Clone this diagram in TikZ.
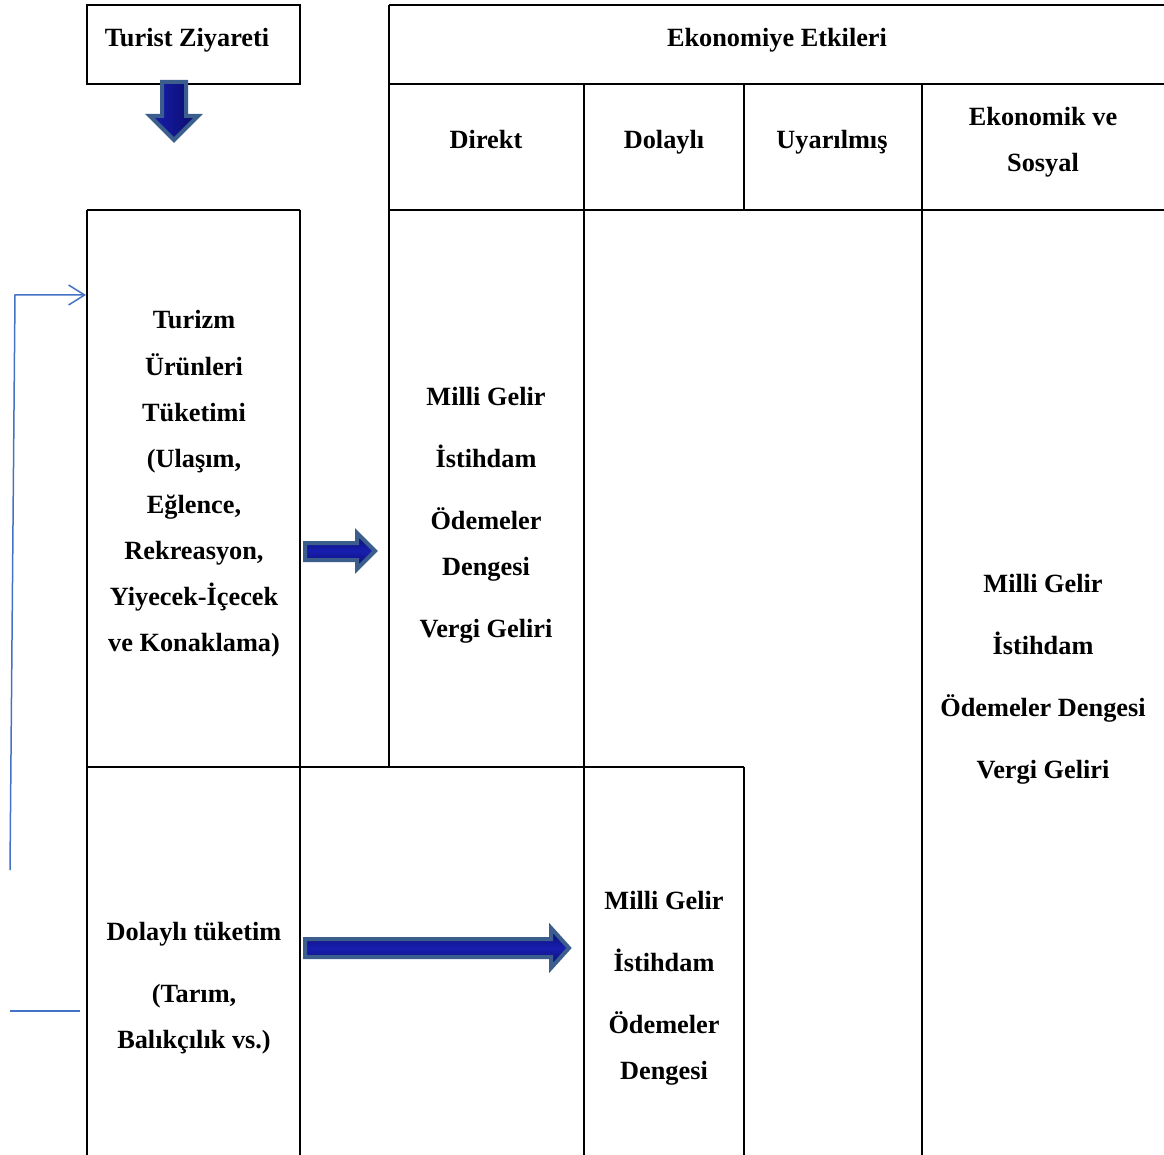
\documentclass[tikz,border=0pt]{standalone}
\usepackage{fontspec}
\setmainfont{Liberation Serif}
\usetikzlibrary{arrows.meta}
\definecolor{arrowedge}{RGB}{59,94,140}
\definecolor{arrowmid}{RGB}{24,30,175}
\definecolor{arrowdark}{RGB}{10,12,105}
\definecolor{fbblue}{RGB}{68,114,196}
\begin{document}
\begin{tikzpicture}[x=1pt,y=-1pt,
  lbl/.style={font=\fontsize{26.3}{30}\selectfont\bfseries, inner sep=0pt, anchor=base},
  ln/.style={line width=2.2pt, black},
  boxnode/.style={draw=black, line width=2.2pt, rectangle, inner sep=0pt},
  fath/.style={draw=arrowedge, line width=4pt, line join=miter, top color=arrowdark, bottom color=arrowdark, middle color=arrowmid},
  fatv/.style={draw=arrowedge, line width=4pt, line join=miter, left color=arrowmid, right color=arrowdark},
  fb/.style={draw=fbblue, line width=1.5pt}]
\useasboundingbox (0,0) rectangle (1164,1155);
\fill[white] (0,0) rectangle (1164,1155);

% boxes
\node[boxnode, minimum width=213pt, minimum height=79pt] (tz) at (193.5,44.5) {};
\coordinate (tzTL) at (87,210);
\coordinate (tzTR) at (300,210);

% table / grid lines
\draw[ln] (389,5) -- (1164,5);
\draw[ln] (389,84) -- (1164,84);
\draw[ln] (389,210) -- (1164,210);
\draw[ln] (389,5) -- (389,767);
\draw[ln] (584,84) -- (584,1155);
\draw[ln] (744,84) -- (744,210);
\draw[ln] (744,767) -- (744,1155);
\draw[ln] (922,84) -- (922,1155);
% left column
\draw[ln] (tzTL) -- (tzTR);
\draw[ln] (87,210) -- (87,1155);
\draw[ln] (300,210) -- (300,1155);
\draw[ln] (87,767) -- (744,767);

% texts
\node[lbl] (t1) at (187,47) {Turist Ziyareti};
\node[lbl] (h0) at (777,47) {Ekonomiye Etkileri};
\node[lbl] (h1) at (486,149) {Direkt};
\node[lbl] (h2) at (664,149) {Dolaylı};
\node[lbl] (h3) at (832,149) {Uyarılmış};
\node[lbl] (h4a) at (1043,126) {Ekonomik ve};
\node[lbl] (h4b) at (1043,172) {Sosyal};

\node[lbl] (a1) at (194,329) {Turizm};
\node[lbl] (a2) at (194,375) {Ürünleri};
\node[lbl] (a3) at (194,421) {Tüketimi};
\node[lbl] (a4) at (194,467) {(Ulaşım,};
\node[lbl] (a5) at (194,513) {Eğlence,};
\node[lbl] (a6) at (194,559) {Rekreasyon,};
\node[lbl] (a7) at (194,605) {Yiyecek-İçecek};
\node[lbl] (a8) at (194,651) {ve Konaklama)};

\node[lbl] (d1) at (486,405) {Milli Gelir};
\node[lbl] (d2) at (486,467) {İstihdam};
\node[lbl] (d3) at (486,529) {Ödemeler};
\node[lbl] (d4) at (486,575) {Dengesi};
\node[lbl] (d5) at (486,637) {Vergi Geliri};

\node[lbl] (e1) at (1043,592) {Milli Gelir};
\node[lbl] (e2) at (1043,654) {İstihdam};
\node[lbl] (e3) at (1043,716) {Ödemeler Dengesi};
\node[lbl] (e4) at (1043,778) {Vergi Geliri};

\node[lbl] (b1) at (194,940) {Dolaylı tüketim};
\node[lbl] (b2) at (194,1002) {(Tarım,};
\node[lbl] (b3) at (194,1048) {Balıkçılık vs.)};

\node[lbl] (c1) at (664,909) {Milli Gelir};
\node[lbl] (c2) at (664,971) {İstihdam};
\node[lbl] (c3) at (664,1033) {Ödemeler};
\node[lbl] (c4) at (664,1079) {Dengesi};

% fat arrows
\path[fatv] (162,82) -- (186,82) -- (186,116) -- (198,116) -- (174,140) -- (150,116) -- (162,116) -- cycle;
\path[fath] (305,543) -- (357,543) -- (357,533) -- (375,551) -- (357,569) -- (357,560) -- (305,560) -- cycle;
\path[fath] (305,939) -- (551,939) -- (551,928) -- (569,948) -- (551,968) -- (551,957) -- (305,957) -- cycle;

% feedback connector
\coordinate (fbTop) at (15,295);
\coordinate (fbBot) at (10,870);
\coordinate (fbL) at (10,1011);
\coordinate (fbR) at (80,1011);
\draw[fb, -{Straight Barb[length=16pt,width=20pt,line width=1.5pt]}] (fbBot) -- (fbTop) -- (86,295);
\draw[fb] (fbL) -- (fbR);
\end{tikzpicture}
\end{document}
